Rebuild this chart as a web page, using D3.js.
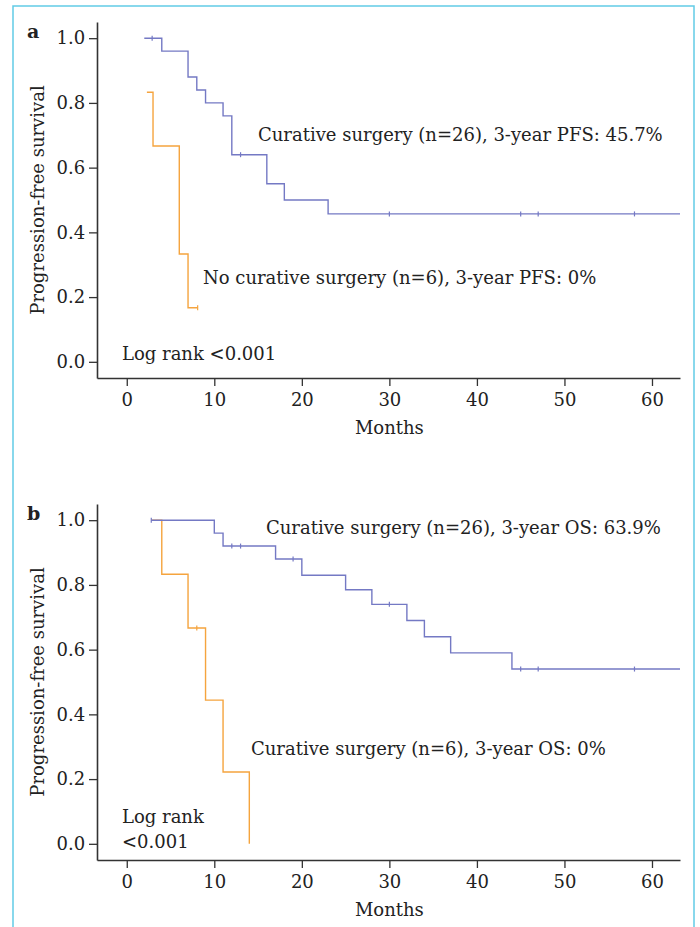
<!DOCTYPE html>
<html>
<head>
<meta charset="utf-8">
<script src="https://cdn.jsdelivr.net/npm/d3@7"></script>
<style>
  body { margin: 0; background: #fff; }
  svg text { font-family: "DejaVu Serif", serif; fill: #222; }
</style>
</head>
<body>
<div id="chart"></div>
<script>
// ---------------- data
var xTicks = [0, 10, 20, 30, 40, 50, 60];
var yTicks = [0, 0.2, 0.4, 0.6, 0.8, 1.0];

// panel a: progression-free survival
var pfsCurTimes = [2, 4, 7, 8, 9, 11, 12, 16, 18, 23, 63.2];
var pfsCurSurv = [1.0, 0.96, 0.88, 0.84, 0.80, 0.76, 0.64, 0.55, 0.50, 0.457, 0.457];
var pfsCurCens = [2.9, 13, 30, 45, 47, 58];
var pfsNoTimes = [2.3, 3, 6, 7, 8.1];
var pfsNoSurv = [0.833, 0.667, 0.333, 0.167, 0.167];
var pfsNoCens = [8.1];

// panel b: overall survival
var osCurTimes = [2.8, 10, 11, 17, 20, 25, 28, 32, 34, 37, 44, 63.2];
var osCurSurv = [1.0, 0.96, 0.92, 0.88, 0.83, 0.785, 0.74, 0.69, 0.64, 0.59, 0.54, 0.54];
var osCurCens = [2.8, 12, 13, 19, 30, 45, 47, 58];
var osNoTimes = [2.8, 4, 7, 9, 11, 14];
var osNoSurv = [1.0, 0.833, 0.667, 0.444, 0.222, 0];
var osNoCens = [8];

var blue = "#7479c4";
var orange = "#f5a43e";

var W = 700, H = 927;
var svg = d3.select("#chart")
    .append("svg")
    .attr("width", W)
    .attr("height", H);

// light blue frame round the figure
svg.append("rect")
    .attr("x", 13)
    .attr("y", 6)
    .attr("width", 681)
    .attr("height", 940)
    .attr("fill", "none")
    .attr("stroke", "#62cbe6")
    .attr("stroke-width", 1.5);

var x = d3.scaleLinear().domain([-3.4, 63.2]).range([97, 680]);

function stepCurve(times, surv) {
    return times.map(function(t, i) { return { t: t, s: surv[i] }; });
}

// survival value of a step curve at time t
function survAt(times, surv, t) {
    var s = surv[0];
    for (var i = 0; i < times.length; i++) {
        if (times[i] <= t) s = surv[i];
    }
    return s;
}

function drawPanel(top, letter, curves, labels, logRank) {
    var g = svg.append("g").attr("transform", "translate(0," + top + ")");
    var y = d3.scaleLinear().domain([-0.05, 1.05]).range([378, 22]);

    var xAxis = g.append("g")
        .attr("transform", "translate(0,378)")
        .call(d3.axisBottom(x).tickValues(xTicks).tickSize(8).tickSizeOuter(0));
    var yAxis = g.append("g")
        .attr("transform", "translate(97,0)")
        .call(d3.axisLeft(y).tickValues(yTicks).tickSize(8).tickSizeOuter(0).tickFormat(d3.format(".1f")));

    [xAxis, yAxis].forEach(function(a) {
        a.select(".domain").attr("stroke", "#333").attr("stroke-width", 1.6);
        a.selectAll(".tick line").attr("stroke", "#333").attr("stroke-width", 1.3);
        a.selectAll(".tick text")
            .attr("font-family", "DejaVu Serif")
            .attr("font-size", "18px")
            .attr("fill", "#222");
    });
    xAxis.selectAll(".tick text").attr("dy", "0.95em");
    yAxis.selectAll(".tick text").attr("dx", "-0.05em");

    var line = d3.line()
        .x(function(d) { return x(d.t); })
        .y(function(d) { return y(d.s); })
        .curve(d3.curveStepAfter);

    curves.forEach(function(c) {
        g.append("path")
            .datum(stepCurve(c.times, c.surv))
            .attr("d", line)
            .attr("fill", "none")
            .attr("stroke", c.color)
            .attr("stroke-width", 1.4);
        g.selectAll(null)
            .data(c.cens)
            .enter()
            .append("line")
            .attr("x1", function(d) { return x(d); })
            .attr("x2", function(d) { return x(d); })
            .attr("y1", function(d) { return y(survAt(c.times, c.surv, d)) - 2.5; })
            .attr("y2", function(d) { return y(survAt(c.times, c.surv, d)) + 2.5; })
            .attr("stroke", c.color)
            .attr("stroke-width", 1.2);
    });

    labels.forEach(function(l) {
        g.append("text")
            .attr("x", l.x)
            .attr("y", l.y)
            .attr("font-size", "18px")
            .text(l.text);
    });

    var lr = g.append("text")
        .attr("x", 122)
        .attr("y", logRank.y)
        .attr("font-size", "18px");
    logRank.lines.forEach(function(t, i) {
        lr.append("tspan").attr("x", 122).attr("dy", i == 0 ? 0 : 25).text(t);
    });

    g.append("text")
        .attr("x", 27)
        .attr("y", 38)
        .attr("font-size", "19px")
        .attr("font-weight", "bold")
        .text(letter);

    g.append("text")
        .attr("x", x(30))
        .attr("y", 434)
        .attr("text-anchor", "middle")
        .attr("font-size", "18px")
        .text("Months");

    g.append("text")
        .attr("transform", "translate(44,200) rotate(-90)")
        .attr("text-anchor", "middle")
        .attr("font-size", "18px")
        .text("Progression-free survival");
}

drawPanel(0, "a",
    [
        { times: pfsNoTimes, surv: pfsNoSurv, cens: pfsNoCens, color: orange },
        { times: pfsCurTimes, surv: pfsCurSurv, cens: pfsCurCens, color: blue }
    ],
    [
        { x: 258, y: 141, text: "Curative surgery (n=26), 3-year PFS: 45.7%" },
        { x: 203, y: 284, text: "No curative surgery (n=6), 3-year PFS: 0%" }
    ],
    { y: 360, lines: ["Log rank <0.001"] });

drawPanel(482, "b",
    [
        { times: osNoTimes, surv: osNoSurv, cens: osNoCens, color: orange },
        { times: osCurTimes, surv: osCurSurv, cens: osCurCens, color: blue }
    ],
    [
        { x: 266, y: 52, text: "Curative surgery (n=26), 3-year OS: 63.9%" },
        { x: 251, y: 273, text: "Curative surgery (n=6), 3-year OS: 0%" }
    ],
    { y: 341, lines: ["Log rank", "<0.001"] });
</script>
</body>
</html>
